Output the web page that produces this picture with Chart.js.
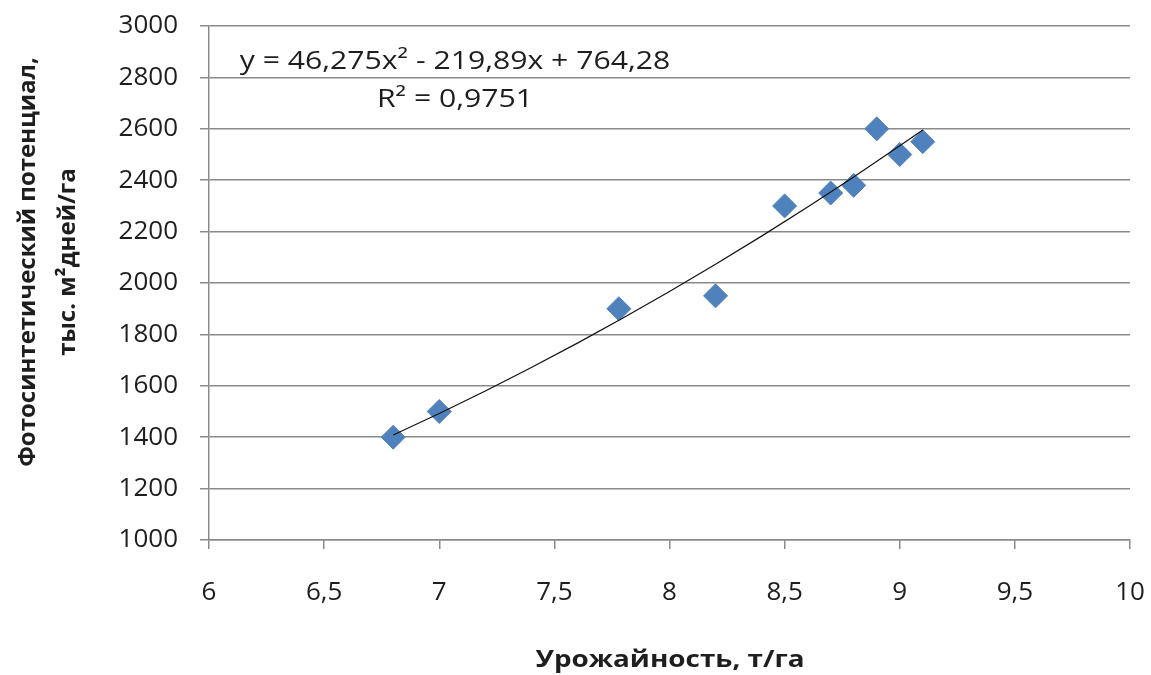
<!DOCTYPE html>
<html lang="ru">
<head>
<meta charset="utf-8">
<script src="https://cdn.jsdelivr.net/npm/chart.js@4/dist/chart.umd.min.js"></script>
<style>
  html, body { margin: 0; padding: 0; background: #fff; }
  #caixa { width: 1151px; height: 675px; }
</style>
</head>
<body>
<div id="caixa"><canvas id="grafico"></canvas></div>
<script>
// dados
const urozhainost = [6.8, 7.0, 7.78, 8.2, 8.5, 8.7, 8.8, 8.9, 9.0, 9.1]
const potencial = [1400, 1500, 1900, 1950, 2300, 2350, 2380, 2600, 2500, 2550]

// linha de tendência (y = 46,275x² - 219,89x + 764,28), valores tabelados
const trendX = [6.8, 7.0, 7.2, 7.4, 7.6, 7.8, 8.0, 8.2, 8.4, 8.6, 8.8, 9.0, 9.1]
const trendY = [1408.8, 1492.5, 1580.0, 1671.1, 1766.0, 1864.5, 1966.8, 2072.7, 2182.4, 2295.7, 2412.8, 2533.6, 2595.3]

const ticksX = [6, 6.5, 7, 7.5, 8, 8.5, 9, 9.5, 10]
const ticksY = [1000, 1200, 1400, 1600, 1800, 2000, 2200, 2400, 2600, 2800, 3000]

const equacao = ['y = 46,275x² - 219,89x + 764,28', 'R² = 0,9751']
const tituloX = 'Урожайность, т/га'
const tituloY = ['Фотосинтетический потенциал,', 'тыс. м²дней/га']

const fonte = '"Open Sans", sans-serif'
const corTexto = '#1e1e1e'
const corGrade = '#8a8a8a'

// o original parece esticado na horizontal, então o texto solto também é
function textoEsticado(ctx, texto, x, y, esticar) {
  ctx.save()
  ctx.translate(x, y)
  ctx.scale(esticar, 1)
  ctx.fillText(texto, 0, 0)
  ctx.restore()
}

// títulos e equação ficam num plugin simples
const textoExtra = {
  id: 'textoExtra',
  afterDraw(chart) {
    const ctx = chart.ctx
    ctx.save()
    ctx.fillStyle = corTexto
    ctx.textAlign = 'center'
    ctx.textBaseline = 'middle'
    ctx.font = '26px ' + fonte
    textoEsticado(ctx, equacao[0], 455, 62, 1.16)
    textoEsticado(ctx, equacao[1], 455, 100, 1.16)

    ctx.font = 'bold 24px ' + fonte
    textoEsticado(ctx, tituloX, 670, 660, 1.16)

    ctx.translate(28, 262)
    ctx.rotate(-Math.PI / 2)
    ctx.fillText(tituloY[0], 0, 0)
    ctx.fillText(tituloY[1], 0, 40)
    ctx.restore()
  }
}

const virgula = v => String(v).replace('.', ',')

new Chart(document.getElementById('grafico'), {
  type: 'scatter',
  data: {
    datasets: [
      {
        type: 'line',
        data: trendX.map((x, i) => ({ x, y: trendY[i] })),
        borderColor: '#111',
        borderWidth: 1.2,
        pointRadius: 0,
        fill: false,
        tension: 0,
        order: 0
      },
      {
        data: urozhainost.map((x, i) => ({ x, y: potencial[i] })),
        pointStyle: 'rectRot',
        pointRadius: 12,
        pointHoverRadius: 12,
        backgroundColor: '#4f81bd',
        borderColor: '#4f81bd',
        borderWidth: 1,
        order: 1
      }
    ]
  },
  options: {
    responsive: true,
    maintainAspectRatio: false,
    animation: false,
    layout: { padding: { top: 26, right: 21, left: 0, bottom: 0 } },
    plugins: { legend: { display: false }, tooltip: { enabled: false } },
    scales: {
      x: {
        type: 'linear',
        min: 6,
        max: 10,
        afterBuildTicks: s => { s.ticks = ticksX.map(v => ({ value: v })) },
        afterFit: s => {
          s.height = 135
          s.paddingLeft = 0
          s.paddingRight = 0
        },
        grid: { drawOnChartArea: false, drawTicks: true, tickLength: 9, color: corGrade, lineWidth: 1.5 },
        border: { color: corGrade, width: 1.5 },
        ticks: {
          padding: 28,
          color: corTexto,
          font: { family: fonte, size: 26 },
          callback: v => virgula(v)
        }
      },
      y: {
        min: 1000,
        max: 3000,
        afterBuildTicks: s => { s.ticks = ticksY.map(v => ({ value: v })) },
        afterFit: s => {
          s.width = 209
          s.paddingTop = 0
          s.paddingBottom = 0
        },
        grid: { color: corGrade, lineWidth: 1.5, tickLength: 9 },
        border: { color: corGrade, width: 1.5 },
        ticks: {
          padding: 22,
          color: corTexto,
          font: { family: fonte, size: 26 },
          callback: v => virgula(v)
        }
      }
    }
  },
  plugins: [textoExtra]
})
</script>
</body>
</html>
